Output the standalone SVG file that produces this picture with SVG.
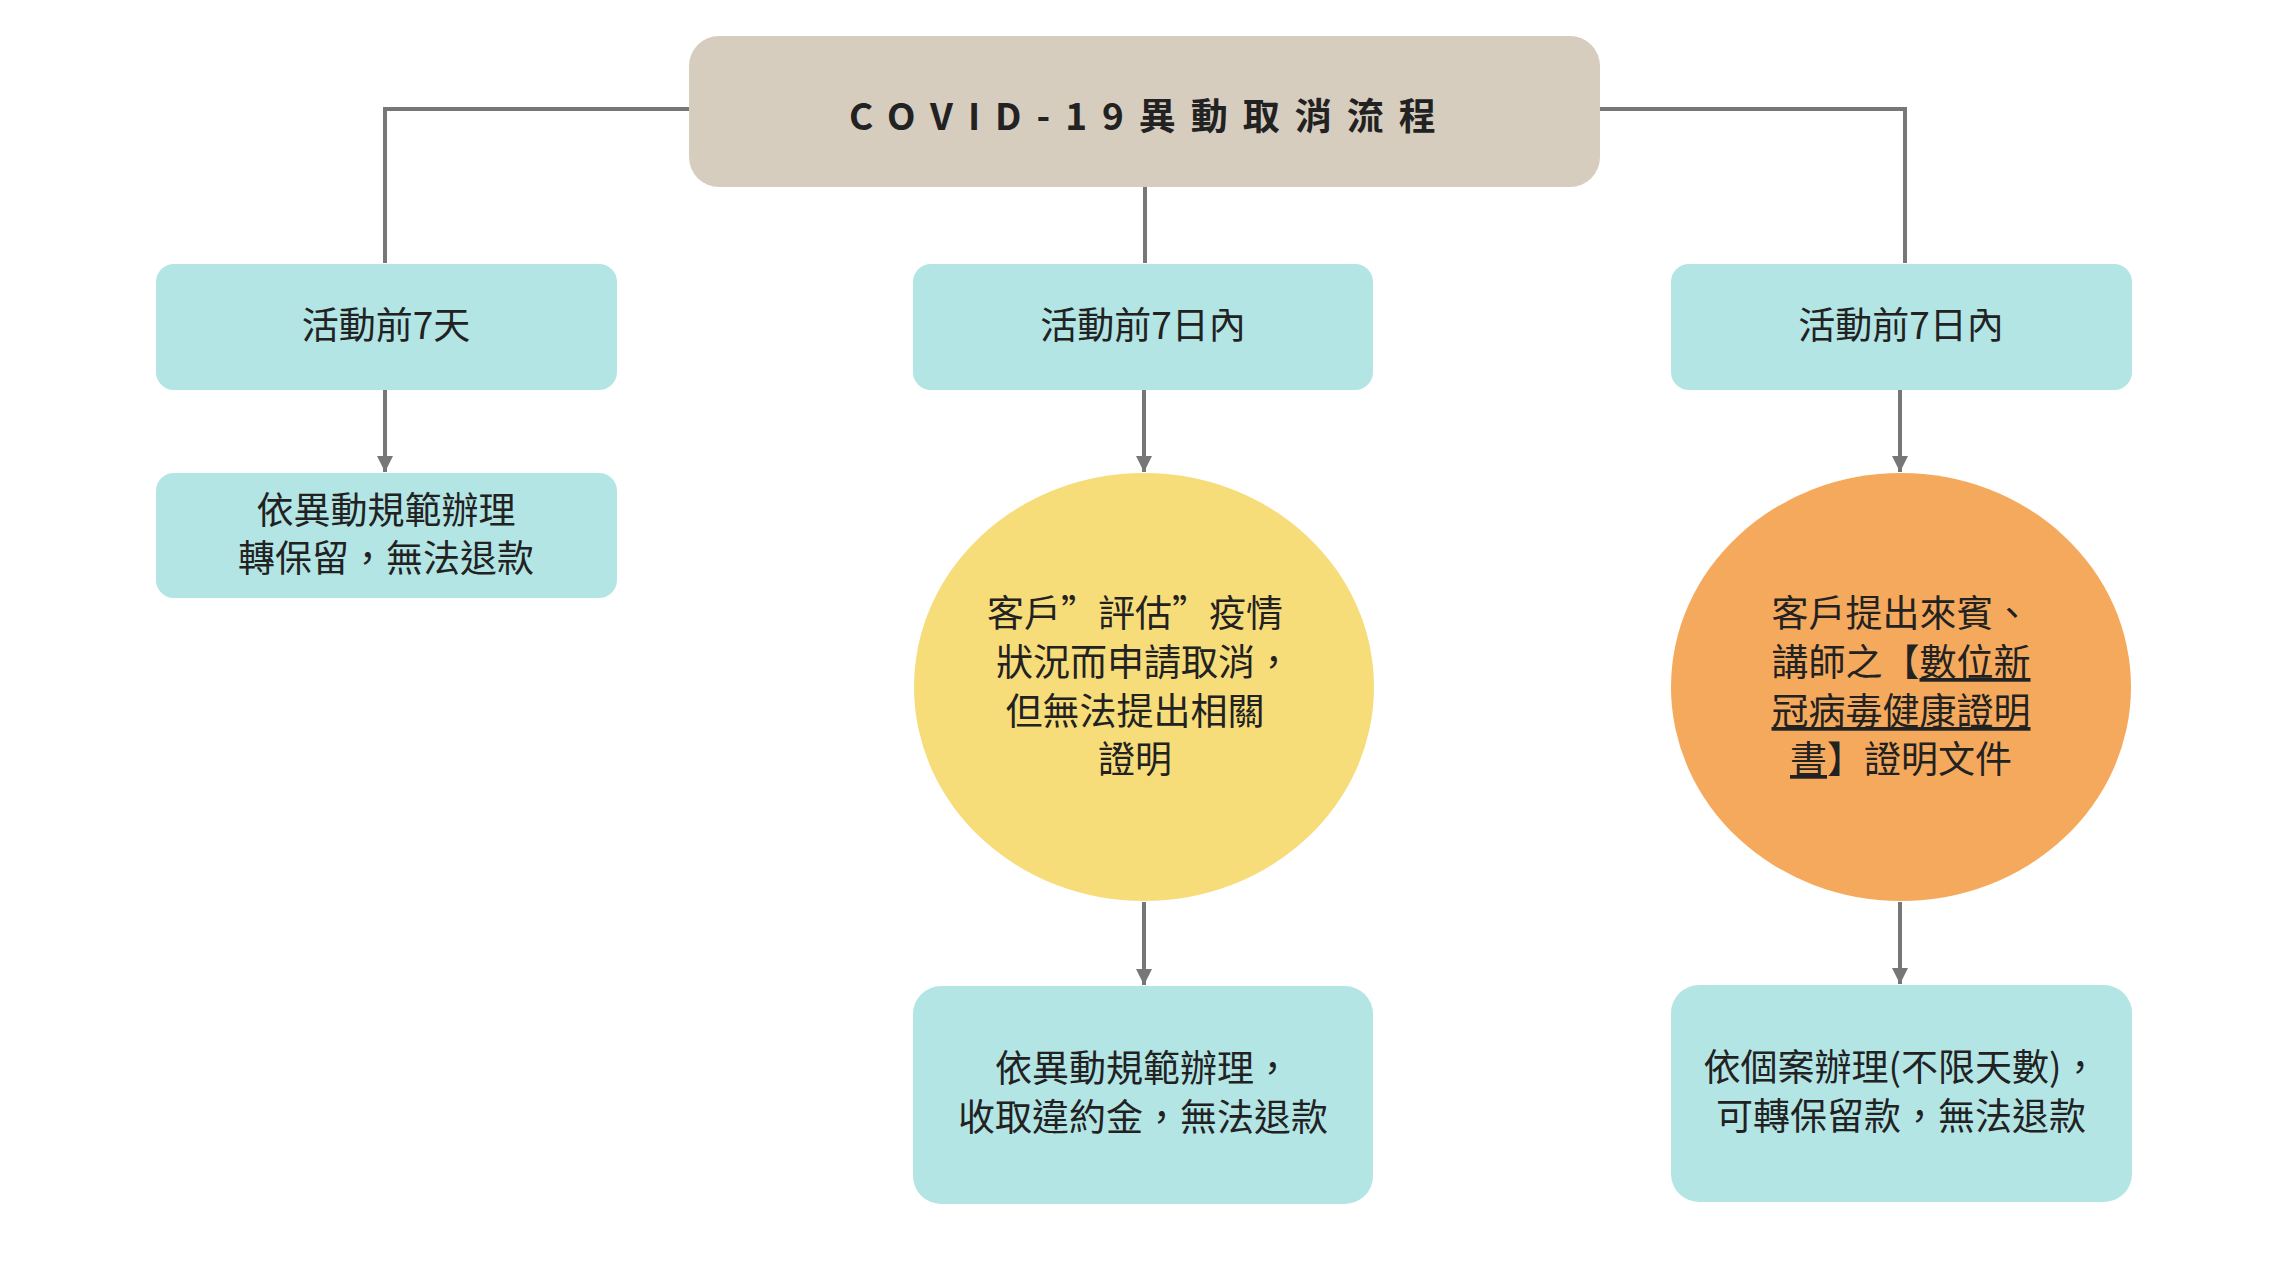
<svg xmlns="http://www.w3.org/2000/svg" width="2276" height="1280" viewBox="0 0 2276 1280">
<style>
.box{fill:#b3e5e5}
.ln{stroke:#777;stroke-width:4;fill:none}
text{font-family:"Noto Sans CJK TC","Noto Sans",sans-serif;fill:#222;text-anchor:middle;font-size:37px}
.u{text-decoration:underline}
</style>
<defs>
<marker id="a" viewBox="0 0 10 10" refX="10" refY="5" markerWidth="16" markerHeight="16" orient="auto" markerUnits="userSpaceOnUse"><path d="M0,0L10,5L0,10Z" fill="#777"/></marker></defs>
<g id="connectors">
<path class="ln" d="M689,109H385V263"/>
<path class="ln" d="M1600,109H1905V263"/>
<path class="ln" d="M1145,187V263"/>
<path class="ln" d="M385,390V472" marker-end="url(#a)"/>
<path class="ln" d="M1144,390V472" marker-end="url(#a)"/>
<path class="ln" d="M1900,390V472" marker-end="url(#a)"/>
<path class="ln" d="M1144,902V985" marker-end="url(#a)"/>
<path class="ln" d="M1900,902V984" marker-end="url(#a)"/>
</g>
<g id="title"><rect x="689" y="36" width="911" height="151" rx="30" fill="#d6cdbf"/><text x="1150" y="130" font-size="56" font-weight="bold" letter-spacing="15">COVID-19異動取消流程</text></g>
<g id="n1"><rect class="box" x="156" y="264" width="461" height="126" rx="18"/><text x="386" y="339">活動前7天</text></g>
<g id="n2"><rect class="box" x="913" y="264" width="460" height="126" rx="18"/><text x="1143" y="339">活動前7日內</text></g>
<g id="n3"><rect class="box" x="1671" y="264" width="461" height="126" rx="18"/><text x="1901" y="339">活動前7日內</text></g>
<g id="n4"><rect class="box" x="156" y="473" width="461" height="125" rx="18"/><text x="386" y="524">依異動規範辦理</text><text x="386" y="572">轉保留，無法退款</text></g>
<g id="n5"><ellipse cx="1144" cy="687" rx="230" ry="214" fill="#f7dc7a"/><text x="1135" y="627">客戶”評估”疫情</text><text x="1144" y="676">狀況而申請取消，</text><text x="1135" y="725">但無法提出相關</text><text x="1135" y="773">證明</text></g>
<g id="n6"><ellipse cx="1901" cy="687" rx="230" ry="214" fill="#f5a95c"/><text x="1901" y="627">客戶提出來賓、</text><text x="1901" y="676">講師之【<tspan class="u">數位新</tspan></text><text x="1901" y="725" class="u">冠病毒健康證明</text><text x="1901" y="773"><tspan class="u">書</tspan>】證明文件</text></g>
<g id="n7"><rect class="box" x="913" y="986" width="460" height="218" rx="28"/><text x="1143" y="1082">依異動規範辦理，</text><text x="1143" y="1131">收取違約金，無法退款</text></g>
<g id="n8"><rect class="box" x="1671" y="985" width="461" height="217" rx="28"/><text x="1901" y="1081">依個案辦理(不限天數)，</text><text x="1901" y="1130">可轉保留款，無法退款</text></g>
</svg>
